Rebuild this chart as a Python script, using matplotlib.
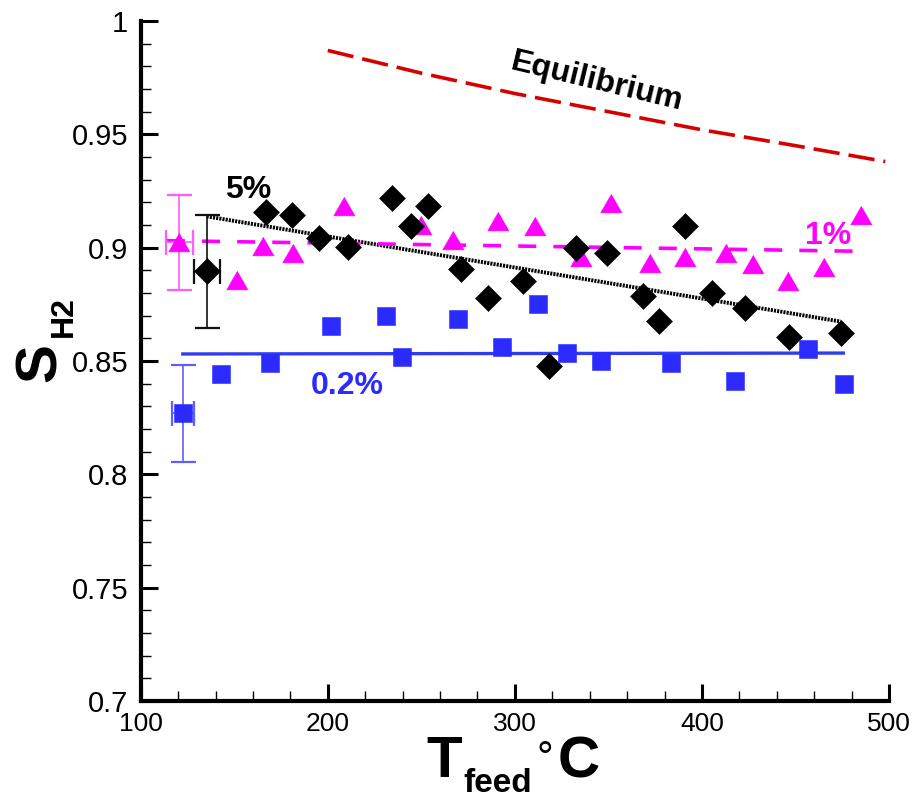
import matplotlib
matplotlib.use("Agg")
import matplotlib.pyplot as plt
from matplotlib.ticker import MultipleLocator, FuncFormatter

plt.rcParams["font.family"] = ["Liberation Sans", "DejaVu Sans"]
plt.rcParams["lines.scale_dashes"] = False

# ---------------- data ----------------
# 1% series (triangles)
t1_x = [120.7, 151.4, 165.6, 181.6, 208.9, 249.7, 266.8, 291.2, 310.6, 335.3,
        351.6, 372.5, 391.0, 412.9, 427.1, 445.8, 465.4, 484.9]
t1_y = [0.9023, 0.8858, 0.9006, 0.8977, 0.9186, 0.9102, 0.9035, 0.9119, 0.9097, 0.8959,
        0.9198, 0.8932, 0.8959, 0.8977, 0.8928, 0.8854, 0.8914, 0.9143]
t1_xerr = 7.0
t1_yerr = 0.021

# 5% series (diamonds)
t5_x = [135.3, 167.0, 180.9, 195.3, 211.0, 234.3, 244.4, 253.8, 271.0, 285.8, 304.2,
        318.1, 332.7, 349.1, 368.7, 377.2, 391.0, 405.2, 423.0, 446.7, 474.2]
t5_y = [0.8895, 0.9156, 0.9146, 0.9043, 0.9003, 0.9219, 0.9097, 0.9183, 0.8906, 0.8780, 0.8855,
        0.8478, 0.9000, 0.8977, 0.8785, 0.8677, 0.9094, 0.8799, 0.8736, 0.8605, 0.8622]
t5_xerr = 7.0
t5_yerr = 0.0248

# 0.2% series (squares)
t02_x = [122.5, 142.8, 169.2, 201.6, 231.2, 239.7, 269.6, 293.2, 312.2, 327.7,
         345.9, 383.4, 417.7, 456.5, 476.0]
t02_y = [0.8269, 0.8442, 0.8490, 0.8656, 0.8700, 0.8519, 0.8686, 0.8563, 0.8752, 0.8537,
         0.8501, 0.8492, 0.8413, 0.8553, 0.8398]
t02_xerr = 5.8
t02_yerr = 0.0213

# linear fits (end points)
fit5_x, fit5_y = [135.3, 474.2], [0.9138, 0.8674]
fit1_x, fit1_y = [114.0, 484.9], [0.9031, 0.8984]
fit02_x, fit02_y = [122.5, 475.6], [0.8531, 0.8535]

# equilibrium selectivity
eq_x = [200, 250, 300, 350, 400, 450, 498]
eq_y = [0.987, 0.977, 0.968, 0.960, 0.952, 0.945, 0.938]

x_ticks = [100, 200, 300, 400, 500]
y_ticks = [0.7, 0.75, 0.8, 0.85, 0.9, 0.95, 1.0]

# ---------------- styling ----------------
MAGENTA = "#ff00ff"
BLUE = "#2b2bff"
RED = "#d60000"

W, H = 914, 799
fig = plt.figure(figsize=(W / 100, H / 100), dpi=100)
ax = fig.add_axes([140.7 / W, 1 - 701 / H, (889 - 140.7) / W, (701 - 21) / H])
ax.set_xlim(100, 500)
ax.set_ylim(0.7, 1.0)

tri = [(0, 1), (-1.15, -1), (1.15, -1)]

# equilibrium curve
ax.plot(eq_x, eq_y, color=RED, lw=2.6, dashes=(19, 6.5), zorder=2)

# fit lines
ax.plot(fit5_x, fit5_y, color="black", lw=2.8, dashes=(1.5, 0.8), zorder=2)
ax.plot(fit1_x, fit1_y, color=MAGENTA, lw=2.6, dashes=(13, 12.3), zorder=2)
ax.plot(fit02_x, fit02_y, color="#2f3cf0", lw=2.4, zorder=2)

# error bars on first point of each series
ax.errorbar(t1_x[0], t1_y[0], xerr=t1_xerr, yerr=t1_yerr, fmt="none",
            ecolor="#ff5cff", elinewidth=1.2, capsize=9, capthick=1.6, zorder=3)
ax.errorbar(t5_x[0], t5_y[0], xerr=t5_xerr, yerr=t5_yerr, fmt="none",
            ecolor="#111111", elinewidth=1.2, capsize=9, capthick=1.6, zorder=3)
ax.errorbar(t02_x[0], t02_y[0], xerr=t02_xerr, yerr=t02_yerr, fmt="none",
            ecolor="#5f5fff", elinewidth=1.2, capsize=9, capthick=1.6, zorder=3)

# markers
ax.plot(t1_x, t1_y, ls="none", marker=tri, ms=15.5, color=MAGENTA, mec=MAGENTA, mew=0.4, zorder=4)
ax.plot(t5_x, t5_y, ls="none", marker="D", ms=12.8, color="black", mec="black", mew=0.4, zorder=4)
ax.plot(t02_x, t02_y, ls="none", marker="s", ms=12.8, color=BLUE, mec=BLUE, mew=0.4, zorder=4)

# series labels
ax.text(157.6, 0.9221, "5%", color="black", fontsize=23, fontweight="bold",
        ha="center", va="baseline", zorder=5)
ax.text(467.6, 0.9014, "1%", color=MAGENTA, fontsize=23, fontweight="bold",
        ha="center", va="baseline", zorder=5)
ax.text(210.5, 0.8354, "0.2%", color=BLUE, fontsize=23, fontweight="bold",
        ha="center", va="baseline", zorder=5)
ax.text(343.9, 0.9732, "Equilibrium", color="black", fontsize=23, fontweight="bold",
        ha="center", va="center", rotation=-13.5, zorder=5)

# axes appearance
for side in ("top", "right"):
    ax.spines[side].set_visible(False)
for side in ("left", "bottom"):
    ax.spines[side].set_linewidth(3.0)

ax.xaxis.set_minor_locator(MultipleLocator(20))
ax.yaxis.set_minor_locator(MultipleLocator(0.01))
ax.set_xticks(x_ticks)
ax.set_yticks(y_ticks)
ax.yaxis.set_major_formatter(FuncFormatter(lambda v, p: "%g" % round(v, 2)))
ax.xaxis.set_major_formatter(FuncFormatter(lambda v, p: "%d" % v))

ax.tick_params(which="major", direction="in", length=12.5, width=2.2, top=False, right=False)
ax.tick_params(which="minor", direction="in", length=7.5, width=1.0, top=False, right=False)
ax.tick_params(axis="y", which="major", labelsize=21, pad=9)
ax.tick_params(axis="x", which="major", labelsize=19, pad=8)

# axis titles
def px(x, y):
    return x / W, 1 - y / H

fig.text(*px(41, 363), "S", fontsize=42, fontweight="bold", rotation=90,
         ha="center", va="center")
fig.text(*px(64, 317), "H2", fontsize=23, fontweight="bold", rotation=90,
         ha="center", va="center")

fig.text(*px(444, 777), "T", fontsize=42, fontweight="bold", ha="center", va="baseline")
fig.text(*px(498, 792), "feed", fontsize=24, fontweight="bold", ha="center", va="baseline")
fig.text(*px(545, 760), "\u00b0", fontsize=30, ha="center", va="center")
fig.text(*px(579, 777), "C", fontsize=42, fontweight="bold", ha="center", va="baseline")

fig.savefig("out.png", dpi=100)
